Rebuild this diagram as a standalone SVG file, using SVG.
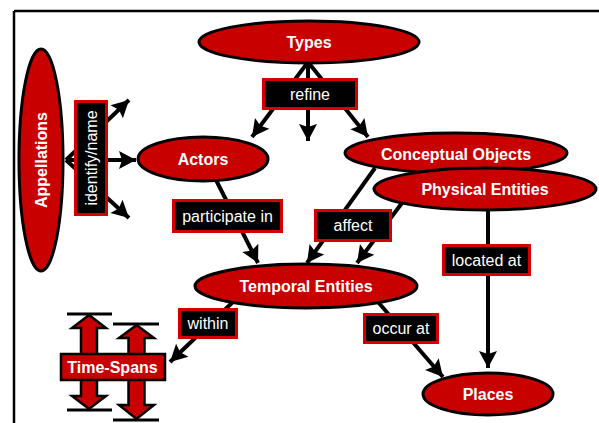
<svg xmlns="http://www.w3.org/2000/svg" width="599" height="423" viewBox="0 0 599 423">
<defs>
<style>
.node{fill:#c80000;stroke:#000;stroke-width:3}
.nt{font-family:"Liberation Sans",Arial,sans-serif;font-weight:bold;font-size:16px;fill:#fff;text-anchor:middle}
.lb{fill:#000;stroke:#d40000;stroke-width:3}
.lt{font-family:"Liberation Sans",Arial,sans-serif;font-size:16px;fill:#fff;text-anchor:middle}
.c{stroke:#000;stroke-width:4;fill:none;marker-end:url(#ah)}
.blk{fill:#c80000;stroke:#000;stroke-width:2.5;stroke-linejoin:miter}
.bar{stroke:#000;stroke-width:3}
</style>
<marker id="ah" markerUnits="userSpaceOnUse" viewBox="-18 -10 19 20" refX="0" refY="0" markerWidth="19" markerHeight="20" orient="auto">
<path d="M0,0 L-17,-9 L-14,0 L-17,9 Z" fill="#000"/>
</marker>
</defs>
<rect width="599" height="423" fill="#fff"/>
<g id="frame">
<path d="M14,11 H599 M14,11 V423" stroke="#000" stroke-width="2.5" fill="none"/>
</g>
<g id="connectors">
<line class="c" x1="66" y1="160" x2="129" y2="100"/>
<line class="c" x1="66" y1="160" x2="136" y2="160"/>
<line class="c" x1="66" y1="160" x2="129" y2="218"/>
<line class="c" x1="308" y1="62" x2="252" y2="137"/>
<line class="c" x1="308" y1="62" x2="308" y2="141"/>
<line class="c" x1="308" y1="62" x2="368" y2="137"/>
<line class="c" x1="215" y1="178" x2="258" y2="263"/>
<line class="c" x1="375" y1="168" x2="307" y2="263"/>
<line class="c" x1="402" y1="203" x2="357" y2="263"/>
<line class="c" x1="488" y1="209" x2="488" y2="368"/>
<line class="c" x1="235" y1="300" x2="170" y2="362"/>
<line class="c" x1="378" y1="302" x2="443" y2="377"/>
<rect class="lb" x="75.5" y="101.5" width="31" height="113"/>
<text class="lt" transform="translate(96.5,158) rotate(-90)">identify/name</text>
<rect class="lb" x="263.5" y="79.5" width="93" height="29"/>
<text class="lt" x="310" y="100">refine</text>
<rect class="lb" x="173.5" y="200.5" width="108" height="31"/>
<text class="lt" x="227.5" y="222">participate in</text>
<rect class="lb" x="315.5" y="210.5" width="75" height="30"/>
<text class="lt" x="353" y="231">affect</text>
<rect class="lb" x="443.5" y="245.5" width="86" height="29"/>
<text class="lt" x="486.5" y="266">located at</text>
<rect class="lb" x="179.5" y="309.5" width="57" height="28"/>
<text class="lt" x="208" y="329">within</text>
<rect class="lb" x="364.5" y="314.5" width="73" height="28"/>
<text class="lt" x="401" y="334">occur at</text>
</g>
<g id="types">
<ellipse class="node" cx="309" cy="42" rx="110" ry="21"/>
<text class="nt" x="309" y="48">Types</text>
</g>
<g id="appellations">
<ellipse class="node" cx="41" cy="160" rx="22" ry="111"/>
<text class="nt" transform="translate(47,160) rotate(-90)">Appellations</text>
</g>
<g id="actors">
<ellipse class="node" cx="203" cy="159" rx="65" ry="22"/>
<text class="nt" x="203" y="165">Actors</text>
</g>
<g id="conceptual-objects">
<ellipse class="node" cx="456" cy="153" rx="111" ry="20"/>
<text class="nt" x="456" y="160">Conceptual Objects</text>
</g>
<g id="physical-entities">
<ellipse class="node" cx="485" cy="189" rx="111" ry="21"/>
<text class="nt" x="485" y="195">Physical Entities</text>
</g>
<g id="temporal-entities">
<ellipse class="node" cx="306" cy="286" rx="111" ry="22"/>
<text class="nt" x="306" y="292">Temporal Entities</text>
</g>
<g id="places">
<ellipse class="node" cx="488" cy="394" rx="65" ry="21"/>
<text class="nt" x="488" y="400">Places</text>
</g>
<g id="time-spans">
<line class="bar" x1="67" y1="314" x2="112" y2="314"/>
<line class="bar" x1="67" y1="410" x2="112" y2="410"/>
<line class="bar" x1="113" y1="324" x2="159" y2="324"/>
<line class="bar" x1="113" y1="420" x2="159" y2="420"/>
<path class="blk" d="M89,315 L106,328 L97,328 L97,396 L106,396 L89,409 L72,396 L81,396 L81,328 L72,328 Z"/>
<path class="blk" d="M136.5,325 L154,338 L144.5,338 L144.5,405 L154,405 L136.5,419 L119,405 L128.5,405 L128.5,338 L119,338 Z"/>
<rect x="61" y="354" width="104" height="26" fill="#c80000" stroke="#000" stroke-width="2.5"/>
<text class="nt" x="112.5" y="373">Time-Spans</text>
</g>
</svg>
